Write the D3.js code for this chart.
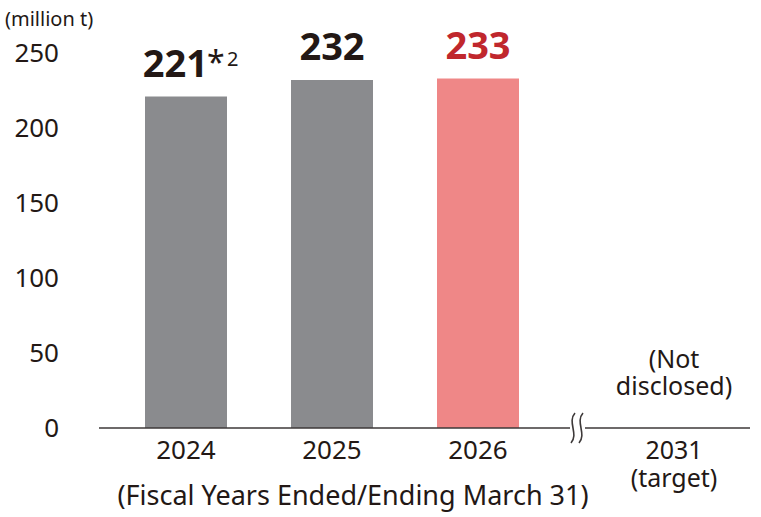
<!DOCTYPE html>
<html><head><meta charset="utf-8">
<script src="https://cdn.jsdelivr.net/npm/d3@7"></script>
<style>body{margin:0;background:#fff}svg{display:block}text{font-family:"Noto Sans","Noto Sans CJK JP",sans-serif;fill:#231815}</style>
</head><body><svg id="c" width="761" height="517"></svg>
<script>
const categories = ["2024","2025","2026"];
const values = [221, 232, 233];
const valueLabels = ["221","232","233"];
const barColors = ["#8a8b8e","#8a8b8e","#ef8787"];
const labelColors = ["#231815","#231815","#c0272d"];
const yTicks = [0,50,100,150,200,250];
const targetCategory = ["2031","(target)"];
const targetNote = ["(Not","disclosed)"];

const svg = d3.select("#c");
const y = d3.scaleLinear().domain([0,250]).range([428,53]);
const x = d3.scaleBand().domain(categories).range([113,551]).paddingInner(0.4384).paddingOuter(0.2192);
const cx = d => x(d)+x.bandwidth()/2;

// y tick labels
svg.selectAll(".yt").data(yTicks).join("text")
  .attr("x",59).attr("y",d=>y(d)).attr("dy","0.36em")
  .attr("text-anchor","end").attr("font-size",26).text(d=>d);
svg.append("text").attr("x",5).attr("y",26).attr("font-size",20).text("(million t)");

// bars
svg.selectAll(".bar").data(values).join("rect")
  .attr("x",(d,i)=>x(categories[i])).attr("width",x.bandwidth())
  .attr("y",d=>y(d)).attr("height",d=>y(0)-y(d))
  .attr("fill",(d,i)=>barColors[i]);

// value labels
svg.selectAll(".vl").data(values).join("text")
  .attr("x",(d,i)=> i===0 ? cx(categories[i])+22 : cx(categories[i]))
  .attr("y",d=>y(d)-20)
  .attr("text-anchor",(d,i)=> i===0 ? "end" : "middle")
  .attr("font-size",38).attr("font-weight","bold")
  .style("fill",(d,i)=>labelColors[i])
  .text((d,i)=>valueLabels[i]);
svg.append("text").attr("x",cx(categories[0])+21).attr("y",y(values[0])-23)
  .attr("font-size",32).text("*");
svg.append("text").attr("x",cx(categories[0])+41).attr("y",y(values[0])-31)
  .attr("font-size",20).text("2");

// axis line with break
const breakX = 577;
const stroke = "#3d3939";
svg.append("line").attr("x1",99).attr("x2",breakX-7).attr("y1",y(0)).attr("y2",y(0)).attr("stroke",stroke).attr("stroke-width",1.6);
svg.append("line").attr("x1",breakX+8).attr("x2",750).attr("y1",y(0)).attr("y2",y(0)).attr("stroke",stroke).attr("stroke-width",1.6);
[-4,4].forEach(o=>{
  const bx = breakX+o;
  svg.append("path").attr("d",`M${bx+2},${y(0)-15} C${bx-6},${y(0)-6} ${bx+6},${y(0)+6} ${bx-2},${y(0)+15}`)
    .attr("fill","none").attr("stroke",stroke).attr("stroke-width",1.6);
});

// category labels
svg.selectAll(".cl").data(categories).join("text")
  .attr("x",d=>cx(d)).attr("y",459).attr("text-anchor","middle")
  .attr("font-size",26).text(d=>d);
const tx = 674;
const multi = (lines, y0, lh) => {
  const t = svg.append("text").attr("text-anchor","middle").attr("font-size",25);
  t.selectAll("tspan").data(lines).join("tspan")
    .attr("x",tx).attr("y",(d,i)=>y0+i*lh).text(d=>d);
};
multi(targetCategory, 459, 28);
multi(targetNote, 368, 27);
svg.append("text").attr("x",353).attr("y",505).attr("text-anchor","middle").attr("font-size",27)
  .text("(Fiscal Years Ended/Ending March 31)");
</script></body></html>
